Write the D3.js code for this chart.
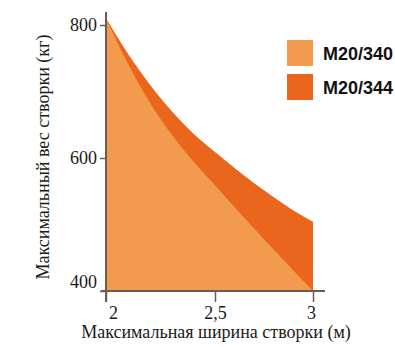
<!DOCTYPE html>
<html>
<head>
<meta charset="utf-8">
<script src="https://cdn.jsdelivr.net/npm/d3@7"></script>
<style>
  body { margin: 0; background: #fff; }
  .legend text { font-family: "Liberation Sans", Arial, sans-serif; font-weight: bold; font-size: 18px; fill: #111; }
  .title { font-family: "Liberation Serif", "DejaVu Serif", serif; font-size: 18px; fill: #1a1a1a; }
</style>
</head>
<body>
<div id="plot"></div>
<script>
// width (m) -> max weight (kg)
let widths = [2.0, 2.1, 2.2, 2.3, 2.4, 2.5, 2.6, 2.7, 2.8, 2.9, 3.0];
let m340 = [810, 742, 684, 636, 595, 559, 526, 494, 462, 431, 400];
let m344 = [810, 757, 711, 671, 637, 609, 585, 562, 541, 521, 504];
let seriesNames = ['M20/340', 'M20/344'];
let xTicks = [2, 2.5, 3];
let xTickLabels = ['2', '2,5', '3'];
let yTicks = [400, 600, 800];

let svgWidth = 395;
let svgHeight = 347;
let serif = '"Liberation Serif", "DejaVu Serif", serif';

let svg = d3.select('#plot')
            .append('svg')
                .attr('width', svgWidth)
                .attr('height', svgHeight);

// the picture's x axis is not quite even, so the scale carries the middle tick too
let x = d3.scaleLinear()
            .domain([2, 2.5, 3])
            .range([106, 215, 313]);

let y = d3.scaleLinear()
            .domain([400, 800])
            .range([291, 25]);

let color = d3.scaleOrdinal()
    .domain(seriesNames)
    .range(['#f29a4e', '#e9661c']);

let data344 = widths.map((w, i) => ({w: w, v: m344[i]}));
let data340 = widths.map((w, i) => ({w: w, v: m340[i]}));

let area = d3.area()
    .x(d => x(d.w))
    .y0(y(400))
    .y1(d => y(d.v))
    .curve(d3.curveMonotoneX);

// dark first, light on top
svg.append('path')
    .datum(data344)
    .attr('d', area)
    .attr('fill', color('M20/344'));

svg.append('path')
    .datum(data340)
    .attr('d', area)
    .attr('fill', color('M20/340'));

let axisColor = '#6b5d54';

// y axis
let yAxis = svg.append('g')
    .attr('transform', `translate(${x(2)},0)`)
    .call(d3.axisLeft(y).tickValues(yTicks).tickSize(6).tickPadding(3).tickSizeOuter(0))
    .attr('font-family', serif)
    .attr('font-size', 18);
yAxis.select('.domain').remove();
yAxis.selectAll('.tick line').attr('stroke', axisColor).attr('stroke-width', 1.5);
yAxis.selectAll('.tick text').attr('fill', '#1a1a1a');
yAxis.selectAll('.tick text').filter(d => d === 400).attr('dy', '-0.22em');

// x axis
let xAxis = svg.append('g')
    .attr('transform', `translate(0,${y(400)})`)
    .call(d3.axisBottom(x).tickValues(xTicks).tickSize(11).tickFormat((d, i) => xTickLabels[i]).tickSizeOuter(0))
    .attr('font-family', serif)
    .attr('font-size', 18);
xAxis.select('.domain').remove();
xAxis.selectAll('.tick line').attr('stroke', axisColor).attr('stroke-width', 1.5);
xAxis.selectAll('.tick text').attr('y', 28).attr('dy', 0).attr('fill', '#1a1a1a');
xAxis.selectAll('.tick text').filter(d => d === 2).attr('dx', 7);
xAxis.selectAll('.tick text').filter(d => d === 3).attr('dx', -2);

// axis lines, drawn a bit past the ranges like the original
svg.append('line')
    .attr('x1', x(2)).attr('x2', x(2))
    .attr('y1', y(800) - 13).attr('y2', y(400) + 11)
    .attr('stroke', axisColor).attr('stroke-width', 2);

svg.append('line')
    .attr('x1', x(2) - 5).attr('x2', x(3) + 12)
    .attr('y1', y(400)).attr('y2', y(400))
    .attr('stroke', axisColor).attr('stroke-width', 2);

// titles
svg.append('text')
    .attr('class', 'title')
    .attr('transform', `translate(49,157) rotate(-90)`)
    .attr('text-anchor', 'middle')
    .text('Максимальный вес створки (кг)');

svg.append('text')
    .attr('class', 'title')
    .attr('x', 216)
    .attr('y', 338)
    .attr('text-anchor', 'middle')
    .text('Максимальная ширина створки (м)');

// legend
let legend = svg.append('g')
    .attr('class', 'legend')
    .selectAll('g')
    .data(seriesNames)
    .join('g')
        .attr('transform', (d, i) => `translate(287,${40 + i * 34})`);

legend.append('rect')
    .attr('width', 26)
    .attr('height', 26)
    .attr('fill', d => color(d));

legend.append('text')
    .attr('x', 36)
    .attr('y', 20)
    .text(d => d);
</script>
</body>
</html>
